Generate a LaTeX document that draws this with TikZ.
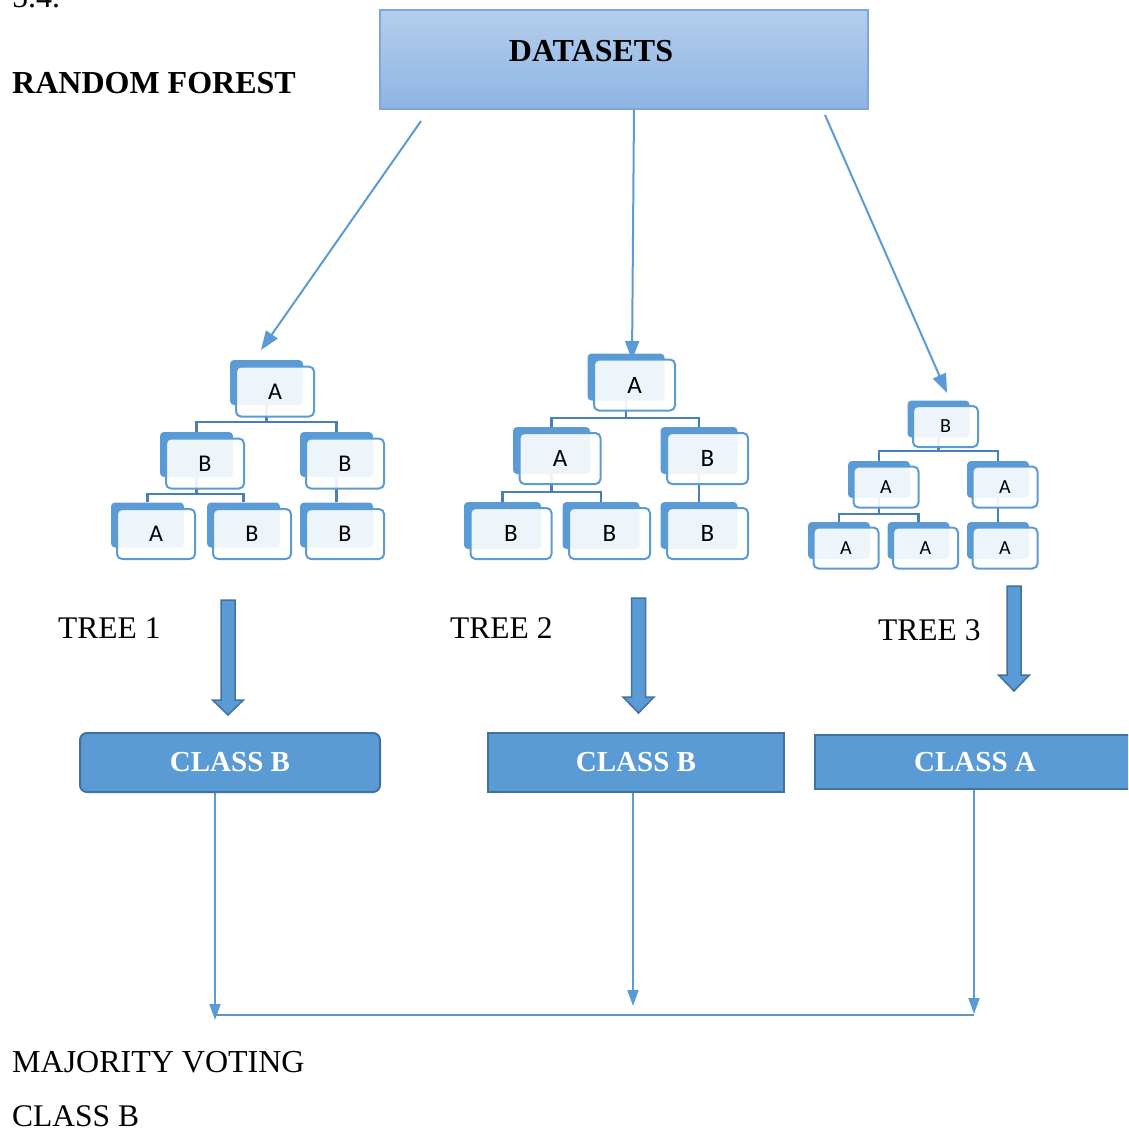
\documentclass[tikz,border=0pt]{standalone}
\usepackage{fontspec}
\setmainfont{Liberation Serif}
\newfontfamily\calibrifont{Carlito}
\usetikzlibrary{arrows.meta,calc}

\definecolor{accent}{HTML}{5B9BD5}
\definecolor{accentdark}{HTML}{41719C}
\definecolor{linkblue}{HTML}{4A7EBB}
\definecolor{dstop}{HTML}{B4CEEC}
\definecolor{dsbot}{HTML}{8FB4E3}
\definecolor{dsedge}{HTML}{7BA7DB}

\pgfdeclarelayer{background}
\pgfsetlayers{background,main}

\newcommand\bigtxt{\fontsize{32}{38}\selectfont}

\tikzset{
  backbox/.style={rectangle, rounded corners=4pt, fill=accent, inner sep=0pt},
  frontbox/.style={rectangle, rounded corners=5pt, fill=white, fill opacity=0.9,
    text opacity=1, draw=accent, line width=2pt, inner sep=0pt},
  link/.style={draw=linkblue, line width=2.2pt},
  feed/.style={draw=accent, line width=2pt, -{Triangle[length=19pt,width=14pt]}},
  vote/.style={draw=accent, line width=2pt, -{Triangle[length=16pt,width=11pt]}},
  blockarrow/.style={fill=accent, draw=accentdark, line width=1.5pt, line join=miter},
  classbox/.style={fill=accent, draw=accentdark, line width=2pt, text=white,
    font=\bfseries\fontsize{29}{34}\selectfont, inner sep=0pt},
  plaintext/.style={inner sep=0pt, font=\bigtxt, anchor=base west},
}

% one tree node: a solid back card and a translucent front card carrying the letter
\newcommand\tn[4]{%
  \node[backbox] (#1-b) at (#2,#3) {};
  \node[frontbox] (#1) at ($(#1-b)+(\fdx,\fdy)$) {#4};}

% org-chart link from a parent card down to a child card
\newcommand\branch[3]{\draw[link] (#1-b.south) -- ++(0,#3) -| (#2-b.north);}

% thick down arrow below each tree
\newcommand\blockdown[4]{% centre x, top y, head start y, tip y
  \draw[blockarrow] ({#1-7},#2) -- ({#1+7},#2) -- ({#1+7},#3) -- ({#1+15.5},#3)
    -- (#1,#4) -- ({#1-15.5},#3) -- ({#1-7},#3) -- cycle;}

\begin{document}
\begin{tikzpicture}[x=1pt,y=-1pt]
\useasboundingbox (0,0) rectangle (1128,1130);
\clip (0,0) rectangle (1128,1130);

% headings
\node[plaintext] (secnum) at (12,7) {5.4.};
\node[plaintext, font=\bfseries\bigtxt] (title) at (12,93) {RANDOM FOREST};

% dataset box
\node[rectangle, minimum width=488pt, minimum height=99pt, inner sep=0pt,
  top color=dstop, bottom color=dsbot, draw=dsedge, line width=1.5pt] (ds) at (624,59.5) {};
\node[inner sep=0pt, anchor=base, font=\bfseries\bigtxt] (dslabel) at (591,61) {DATASETS};

% ---------- tree 1 ----------
\begin{scope}[backbox/.append style={minimum width=73pt, minimum height=45pt},
  frontbox/.append style={minimum width=78pt, minimum height=50pt,
    font=\calibrifont\fontsize{24}{28}\selectfont}]
  \def\fdx{8.5}\def\fdy{9}
  \tn{t1r}{266.5}{382.5}{A}
  \tn{t1l}{196.5}{454.5}{B}
  \tn{t1rr}{336.5}{454.5}{B}
  \tn{t1ll}{147.5}{525}{A}
  \tn{t1lm}{243.5}{525}{B}
  \tn{t1rb}{336.5}{525}{B}
  \begin{pgfonlayer}{background}
    \branch{t1r}{t1l}{17}
    \branch{t1r}{t1rr}{17}
    \branch{t1l}{t1ll}{17}
    \branch{t1l}{t1lm}{17}
    \draw[link] (t1rr-b.south) -- (t1rb-b.north);
  \end{pgfonlayer}
\end{scope}

% ---------- tree 2 ----------
\begin{scope}[backbox/.append style={minimum width=77pt, minimum height=47pt},
  frontbox/.append style={minimum width=81pt, minimum height=51pt,
    font=\calibrifont\fontsize{25}{29}\selectfont}]
  \def\fdx{8.5}\def\fdy{8}
  \tn{t2r}{626}{377}{A}
  \tn{t2l}{551.5}{450.5}{A}
  \tn{t2rr}{699}{450.5}{B}
  \tn{t2ll}{502.5}{525.5}{B}
  \tn{t2lm}{601}{525.5}{B}
  \tn{t2rb}{699}{525.5}{B}
  \begin{pgfonlayer}{background}
    \branch{t2r}{t2l}{17.5}
    \branch{t2r}{t2rr}{17.5}
    \branch{t2l}{t2ll}{18}
    \branch{t2l}{t2lm}{18}
    \draw[link] (t2rr-b.south) -- (t2rb-b.north);
  \end{pgfonlayer}
\end{scope}

% ---------- tree 3 ----------
\begin{scope}[backbox/.append style={minimum width=62pt, minimum height=37pt},
  frontbox/.append style={minimum width=65pt, minimum height=41pt,
    font=\calibrifont\fontsize{20}{24}\selectfont}]
  \def\fdx{7}\def\fdy{7.5}
  \tn{t3r}{938.5}{419}{B}
  \tn{t3l}{879}{479.5}{A}
  \tn{t3rr}{998}{479.5}{A}
  \tn{t3ll}{839}{540.5}{A}
  \tn{t3lm}{918.5}{540.5}{A}
  \tn{t3rb}{998}{540.5}{A}
  \begin{pgfonlayer}{background}
    \branch{t3r}{t3l}{13.5}
    \branch{t3r}{t3rr}{13.5}
    \branch{t3l}{t3ll}{16}
    \branch{t3l}{t3lm}{16}
    \draw[link] (t3rr-b.south) -- (t3rb-b.north);
  \end{pgfonlayer}
\end{scope}

% sampling arrows from the dataset to each tree
\coordinate (f1s) at (421,121);  \coordinate (f1e) at (261,350);
\coordinate (f2e) at (632,360);
\coordinate (f3s) at (825,115);  \coordinate (f3e) at (947,393);
\draw[feed] (f1s) -- (f1e);
\draw[feed] (ds.south -| 634,0) -- (f2e);
\draw[feed] (f3s) -- (f3e);

% tree labels and prediction arrows
\node[plaintext, font=\fontsize{31.5}{37}\selectfont] (tree1) at (58,638) {TREE 1};
\node[plaintext, font=\fontsize{31.5}{37}\selectfont] (tree2) at (450,638) {TREE 2};
\node[plaintext, font=\fontsize{31.5}{37}\selectfont] (tree3) at (878,640) {TREE 3};
\blockdown{228}{600}{700}{715}
\blockdown{638.5}{598}{697}{713}
\blockdown{1014}{586}{675}{691}

% predicted classes
\node[classbox, rounded corners=7pt, minimum width=300pt, minimum height=59pt] (c1) at (230,762.5) {CLASS B};
\node[classbox, minimum width=296pt, minimum height=59pt] (c2) at (636,762.5) {CLASS B};
\node[classbox, minimum width=320pt, minimum height=54pt] (c3) at (975,762) {CLASS A};

% votes gathered on one line
\coordinate (v1) at (215,1020);
\coordinate (v2) at (633,1006);
\coordinate (v3) at (974,1014);
\coordinate (h1) at (215,1015);
\coordinate (h2) at (974,1015);
\draw[vote] (c1.south -| v1) -- (v1);
\draw[vote] (c2.south -| v2) -- (v2);
\draw[vote] (c3.south -| v3) -- (v3);
\draw[draw=linkblue!85, line width=1.5pt] (h1) -- (h2);

% result
\node[plaintext] (mv) at (12,1072) {MAJORITY VOTING};
\node[plaintext, font=\fontsize{31.5}{37}\selectfont] (result) at (12,1126) {CLASS B};
\end{tikzpicture}
\end{document}
